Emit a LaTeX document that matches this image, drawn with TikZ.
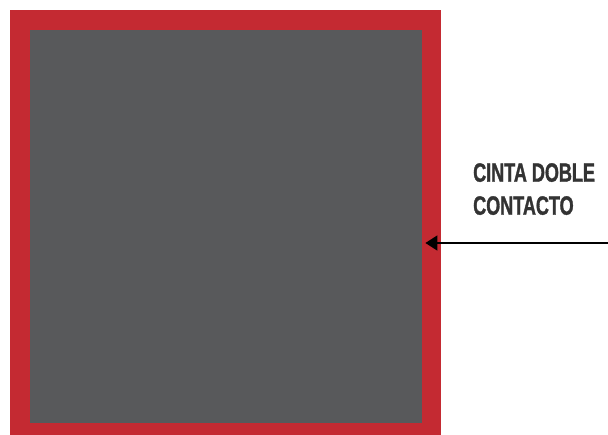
\documentclass[tikz,border=0pt]{standalone}
\usepackage{fontspec}
\usepackage{xcolor}
\usepackage{tikz}
\usetikzlibrary{arrows.meta, positioning, calc}

\newfontfamily\labelfont[FakeStretch=0.68, BoldFeatures={FakeBold=1.2}]{Liberation Sans}
\definecolor{tapered}{HTML}{C42A32}
\definecolor{panelgray}{HTML}{58595B}
\definecolor{labelgray}{HTML}{333333}

\begin{document}
\begin{tikzpicture}[
  x=1pt, y=-1pt,
  frame/.style={fill=tapered, draw=none, inner sep=0pt, anchor=north west},
  panel/.style={fill=panelgray, draw=none, inner sep=0pt, anchor=north west},
  note/.style={anchor=north west, align=left, text=labelgray, inner sep=0pt,
    font=\labelfont\bfseries\fontsize{26.5}{33}\selectfont},
  arr/.style={-{Triangle[length=12pt, width=15pt]}, line width=1.6pt},
]
  \useasboundingbox (0,0) rectangle (608,435);

  % Red tape frame
  \node[frame, minimum width=431pt, minimum height=425pt] (tape) at (10,10) {};

  % Gray panel
  \node[panel, minimum width=392pt, minimum height=393pt] (panel) at (30,30) {};

  % Label
  \node[note] (label) at (473,163) {CINTA DOBLE\\CONTACTO};

  % Arrow
  \coordinate (start) at (608,243);
  \draw[arr] (start) -- ($(panel.east |- start) + (3,0)$);
\end{tikzpicture}
\end{document}
